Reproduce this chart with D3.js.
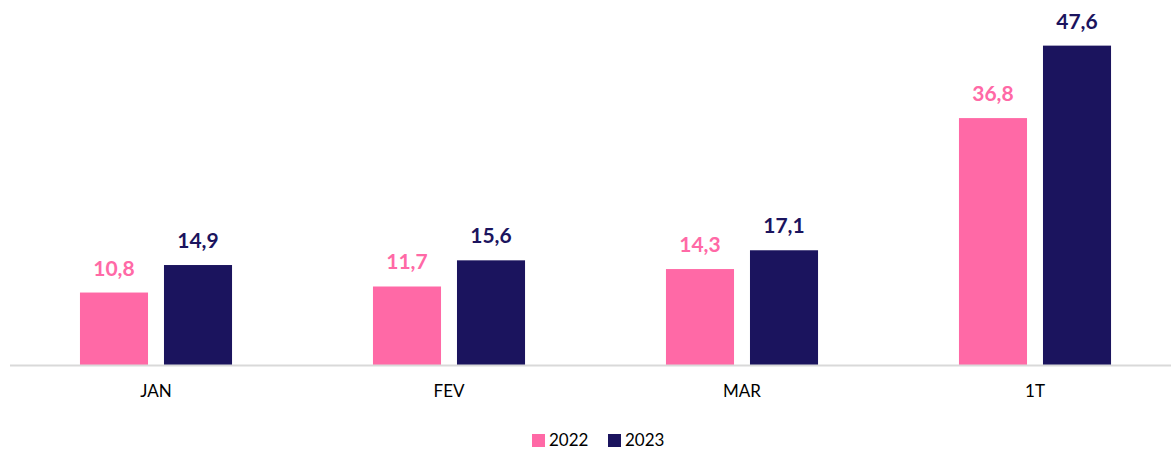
<!DOCTYPE html>
<html>
<head>
<meta charset="utf-8">
<script src="https://cdn.jsdelivr.net/npm/d3@7"></script>
<style>
  body { margin: 0; background: #fff; }
  svg { display: block; font-family: Lato, "Open Sans", sans-serif; }
</style>
</head>
<body>
<div id="chart"></div>
<script>
// chart data
const categories = ['JAN', 'FEV', 'MAR', '1T'];
const seriesNames = ['2022', '2023'];
const values2022 = [10.8, 11.7, 14.3, 36.8];
const values2023 = [14.9, 15.6, 17.1, 47.6];
const colors = ['#ff69a6', '#1b145e'];

const width = 1171, height = 450;
const baseline = 365;

const svg = d3.select('#chart')
    .append('svg')
    .attr('width', width)
    .attr('height', height);

const rows = categories.map((c, i) => ({
    cat: c,
    vals: [values2022[i], values2023[i]]
}));

let x0 = d3.scaleBand()
    .domain(categories)
    .range([9.5, 1181.5])
    .paddingInner(0.481)
    .paddingOuter(0.2405)
    ;

let x1 = d3.scaleBand()
    .domain(seriesNames)
    .range([0, x0.bandwidth()])
    .paddingInner(0.19)
    .paddingOuter(0)
    ;

let y = d3.scaleLinear()
    .domain([0, 54.4])
    .range([baseline, 0])
    ;

// bars
let groups = svg.selectAll('.group')
    .data(rows)
    .enter()
    .append('g')
    .attr('class', 'group')
    .attr('transform', d => `translate(${x0(d.cat)},0)`)
    ;

groups.selectAll('rect')
    .data(d => d.vals.map((v, i) => ({ key: seriesNames[i], v: v, i: i })))
    .enter()
    .append('rect')
    .attr('x', d => x1(d.key))
    .attr('y', d => y(d.v))
    .attr('width', x1.bandwidth())
    .attr('height', d => baseline - y(d.v))
    .style('fill', d => colors[d.i])
    ;

// value labels
groups.selectAll('text')
    .data(d => d.vals.map((v, i) => ({ key: seriesNames[i], v: v, i: i })))
    .enter()
    .append('text')
    .attr('x', d => x1(d.key) + x1.bandwidth() / 2)
    .attr('y', d => y(d.v) - 17)
    .attr('text-anchor', 'middle')
    .style('font-size', '21px')
    .style('font-weight', 'bold')
    .style('fill', d => colors[d.i])
    .text(d => d3.format('.1f')(d.v).replace('.', ','))
    ;

// axis
let axis = svg.append('g')
    .attr('transform', `translate(0,${baseline})`)
    .call(d3.axisBottom(x0).tickSize(0).tickPadding(20))
    ;
axis.select('.domain')
    .attr('stroke', '#d9d9d9')
    .attr('stroke-width', 2)
    ;
axis.selectAll('text')
    .style('font-size', '17px')
    .style('font-family', 'Lato, "Open Sans", sans-serif')
    .style('fill', '#000')
    ;

// legend
let legend = svg.append('g')
    .attr('transform', 'translate(532,446)');
let legendX = d3.scalePoint().domain(seriesNames).range([0, 76]);
let items = legend.selectAll('g')
    .data(seriesNames)
    .enter()
    .append('g')
    .attr('transform', d => `translate(${legendX(d)},0)`)
    ;
items.append('rect')
    .attr('x', 0)
    .attr('y', -12)
    .attr('width', 13)
    .attr('height', 13)
    .style('fill', (d, i) => colors[i])
    ;
items.append('text')
    .attr('x', 17)
    .attr('y', 0)
    .style('font-size', '17px')
    .style('fill', '#000')
    .text(d => d)
    ;
</script>
</body>
</html>
